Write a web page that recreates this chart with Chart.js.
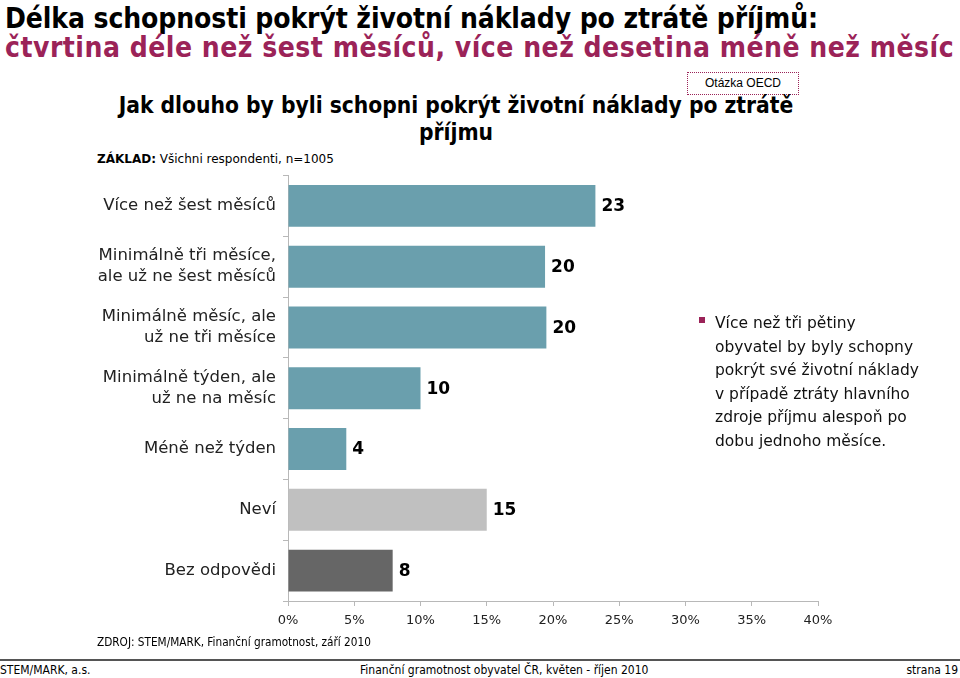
<!DOCTYPE html>
<html>
<head>
<meta charset="utf-8">
<script src="https://cdn.jsdelivr.net/npm/chart.js@4.4.0/dist/chart.umd.min.js"></script>
<style>
    body { margin: 0; width: 960px; height: 678px; position: relative; background: #fff; overflow: hidden; font-family: 'DejaVu Sans', Verdana, sans-serif; color: #000; }
    .abs { position: absolute; white-space: nowrap; }
    .cond { font-family: 'DejaVu Sans Condensed', 'DejaVu Sans', sans-serif; font-stretch: condensed; }
    #title1, #title2 { left: 5px; font-weight: bold; font-size: 28px; }
    #title1 { top: 2px; letter-spacing: -0.1px; }
    #title2 { top: 31px; color: #9b2358; letter-spacing: 0.5px; }
    #question { left: 0; width: 912px; top: 92px; text-align: center; font-weight: bold; font-size: 22.6px; line-height: 27px; white-space: normal; }
    #oecd { left: 687px; top: 72px; width: 110px; height: 21px; border: 1px dotted #9b2358; font-family: 'Liberation Sans', Arial, sans-serif; font-size: 12px; line-height: 21px; text-align: center; }
    #base { left: 97px; top: 152px; font-size: 12px; }
    #note { left: 715px; top: 312px; font-size: 15.5px; line-height: 23.5px; color: #111; }
    #bullet { left: 699px; top: 317px; width: 6px; height: 6px; background: #9b2358; }
    #source { left: 97px; top: 635px; font-size: 11.7px; }
    #rule { left: 0; top: 659px; width: 960px; height: 2px; background: #555; }
    .foot { top: 663px; font-size: 12px; }
    #chartBox { position: absolute; left: 0; top: 158px; width: 960px; height: 482px; }
</style>
</head>
<body>
<div class="abs cond" id="title1">Délka schopnosti pokrýt životní náklady po ztrátě příjmů:</div>
<div class="abs cond" id="title2">čtvrtina déle než šest měsíců, více než desetina méně než měsíc</div>
<div class="abs" id="oecd">Otázka OECD</div>
<div class="abs cond" id="question">Jak dlouho by byli schopni pokrýt životní náklady po ztrátě<br>příjmu</div>
<div class="abs" id="base"><b>ZÁKLAD:</b> Všichni respondenti, n=1005</div>
<div id="chartBox"><canvas id="chart"></canvas></div>
<div class="abs" id="bullet"></div>
<div class="abs" id="note">Více než tři pětiny<br>obyvatel by byly schopny<br>pokrýt své životní náklady<br>v případě ztráty hlavního<br>zdroje příjmu alespoň po<br>dobu jednoho měsíce.</div>
<div class="abs cond" id="source">ZDROJ: STEM/MARK, Finanční gramotnost, září 2010</div>
<div class="abs" id="rule"></div>
<div class="abs foot cond" style="left:0">STEM/MARK, a.s.</div>
<div class="abs foot cond" style="left:360px">Finanční gramotnost obyvatel ČR, květen - říjen 2010</div>
<div class="abs foot cond" style="right:2px">strana 19</div>

<script>
// answers, share of respondents in %
const categories = [
    'Více než šest měsíců',
    ['Minimálně tři měsíce,', 'ale už ne šest měsíců'],
    ['Minimálně měsíc, ale', 'už ne tři měsíce'],
    ['Minimálně týden, ale', 'už ne na měsíc'],
    'Méně než týden',
    'Neví',
    'Bez odpovědi'
];
const shares = [23.2, 19.4, 19.5, 10.0, 4.4, 15.0, 7.9];
const shareLabels = ['23', '20', '20', '10', '4', '15', '8'];
const xTickValues = [0, 5, 10, 15, 20, 25, 30, 35, 40];

const teal = '#6a9fad';
const barColors = [teal, teal, teal, teal, teal, '#c0c0c0', '#666666'];
const axisColor = '#b8b8b8';

const valueLabelPlugin = {
    id: 'valueLabels',
    afterDatasetsDraw(chart) {
        const ctx = chart.ctx;
        const meta = chart.getDatasetMeta(0);
        ctx.save();
        ctx.font = 'bold 17px "DejaVu Sans"';
        ctx.fillStyle = '#000';
        ctx.textBaseline = 'middle';
        meta.data.forEach((bar, i) => {
            ctx.fillText(shareLabels[i], bar.x + 6, bar.y + 1);
        });
        ctx.restore();
    }
};

new Chart(document.getElementById('chart'), {
    type: 'bar',
    data: {
        labels: categories,
        datasets: [{
            data: shares,
            backgroundColor: barColors,
            borderWidth: 0,
            barPercentage: 0.69,
            categoryPercentage: 1
        }]
    },
    plugins: [valueLabelPlugin],
    options: {
        indexAxis: 'y',
        responsive: true,
        maintainAspectRatio: false,
        animation: false,
        devicePixelRatio: 1,
        layout: { padding: { top: 0, right: 142, left: 0, bottom: 0 } },
        plugins: {
            legend: { display: false },
            tooltip: { enabled: false }
        },
        scales: {
            x: {
                min: 0,
                max: 40,
                afterBuildTicks: (scale) => {
                    scale.ticks = xTickValues.map(v => ({ value: v }));
                },
                afterFit: (scale) => { scale.height = 39; },
                ticks: {
                    callback: (value) => value + '%',
                    color: '#222',
                    font: { family: 'DejaVu Sans', size: 13 },
                    padding: 7,
                    maxRotation: 0
                },
                grid: { drawOnChartArea: false, color: axisColor, tickLength: 5 },
                border: { color: axisColor }
            },
            y: {
                afterFit: (scale) => { scale.width = 288; },
                ticks: {
                    color: '#222',
                    font: { family: 'DejaVu Sans', size: 16.5, lineHeight: 1.27 },
                    padding: 7
                },
                grid: { drawOnChartArea: false, color: axisColor, tickLength: 5, offset: true },
                border: { color: axisColor }
            }
        }
    }
});
</script>
</body>
</html>
